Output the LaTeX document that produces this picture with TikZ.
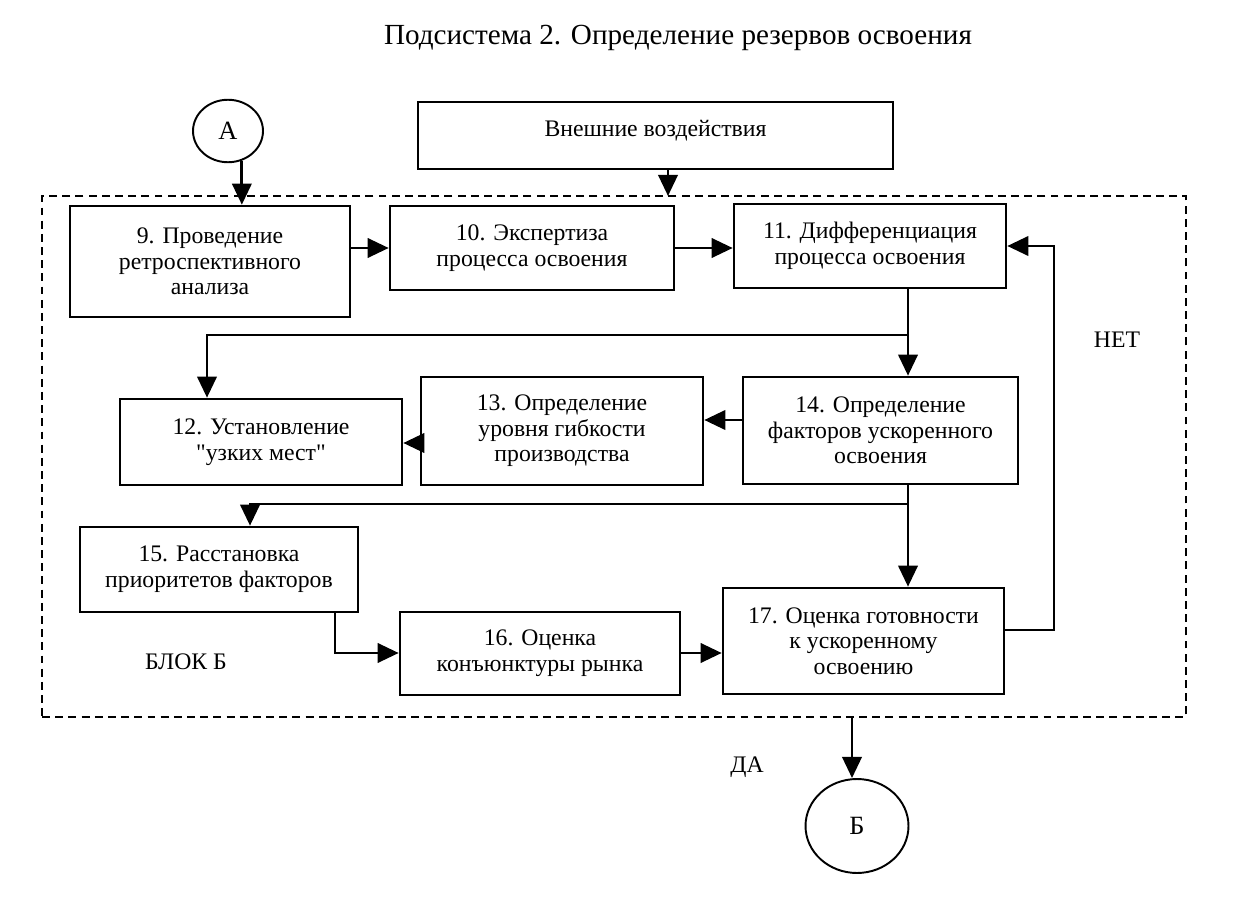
\documentclass[tikz,border=0pt]{standalone}
\usepackage{fontspec}
\setmainfont{Liberation Serif}[Ligatures=TeXOff]
\usetikzlibrary{arrows.meta,shapes.geometric}
\begin{document}
\begin{tikzpicture}[x=0.02cm,y=-0.02cm,
  box/.style={draw,line width=1.5pt,align=center,inner sep=2pt,
    font=\fontsize{13.5}{14.6}\selectfont},
  circ/.style={draw,ellipse,line width=1.1pt,inner sep=0pt,font=\fontsize{15}{17}\selectfont},
  arr/.style={line width=1.6pt,-{Triangle[length=12pt,width=11pt]}},
  lbl/.style={font=\fontsize{13.5}{15}\selectfont}]
\useasboundingbox (0,0) rectangle (1237,898);
\node[font=\fontsize{16.6}{19}\selectfont] (title) at (678,38) {Подсистема 2. Определение резервов освоения};
\node[draw,dashed,line width=1.1pt,dash pattern=on 4.5pt off 3pt,minimum width=22.88cm,minimum height=10.42cm] (blk) at (614,456.5) {};
\node[circ,minimum width=1.4cm,minimum height=1.25cm] (A) at (228,131) {А};
\node[circ,minimum width=2.06cm,minimum height=1.88cm] (B) at (857,826) {Б};
\node[box,minimum width=9.5cm,minimum height=1.34cm,text depth=0.3cm] (ext) at (655.5,135.5) {Внешние воздействия};
\node[box,minimum width=5.6cm,minimum height=2.22cm] (n9) at (210,261.5) {9. Проведение\\ретроспективного\\анализа};
\node[box,minimum width=5.68cm,minimum height=1.68cm] (n10) at (532,248) {10. Экспертиза\\процесса освоения};
\node[box,minimum width=5.44cm,minimum height=1.68cm] (n11) at (870,246) {11. Дифференциация\\процесса освоения};
\node[box,minimum width=5.64cm,minimum height=1.72cm] (n12) at (261,442) {12. Установление\\"узких мест"};
\node[box,minimum width=5.64cm,minimum height=2.16cm] (n13) at (562,431) {13. Определение\\уровня гибкости\\производства};
\node[box,minimum width=5.5cm,minimum height=2.14cm] (n14) at (880.5,430.5) {14. Определение\\факторов ускоренного\\освоения};
\node[box,minimum width=5.56cm,minimum height=1.7cm] (n15) at (219,569.5) {15. Расстановка\\приоритетов факторов};
\node[box,minimum width=5.6cm,minimum height=1.66cm] (n16) at (540,653.5) {16. Оценка\\конъюнктуры рынка};
\node[box,minimum width=5.62cm,minimum height=2.12cm] (n17) at (863.5,641) {17. Оценка готовности\\к ускоренному\\освоению};
\node[lbl] (net) at (1117,340) {НЕТ};
\node[lbl] (blok) at (186,662) {БЛОК Б};
\node[lbl] (da) at (747,767) {ДА};
\coordinate (e1) at (668,196);
\coordinate (c1) at (908,335);
\coordinate (c2) at (207,335);
\coordinate (c3) at (908,504);
\coordinate (c4) at (250,504);
\coordinate (c5) at (335,653);
\coordinate (c6) at (1054,630);
\coordinate (c7) at (1054,246);
\coordinate (c8) at (852,717);
\draw[arr] (A.-65) -- (A.-65 |- n9.north);
\draw[arr] (ext.south -| e1) -- (e1);
\draw[arr] (n9.east |- n10.west) -- (n10.west);
\draw[arr] (n10.east) -- (n10.east -| n11.west);
\draw[arr] (c1 |- n11.south) -- (c1 |- n14.north);
\draw[arr] (c1) -- (c2) -- (c2 |- n12.north);
\draw[arr] (n14.west |- 0,420) -- (n13.east |- 0,420);
\draw[arr] (n13.west |- 0,443) -- (n12.east |- 0,443);
\draw[arr] (c3 |- n14.south) -- (c3 |- n17.north);
\draw[arr] (c3) -- (c4) -- (c4 |- n15.north);
\draw[arr] (c5 |- n15.south) -- (c5) -- (c5 -| n16.west);
\draw[arr] (n16.east |- c5) -- (n17.west |- c5);
\draw[arr] (n17.east |- c6) -- (c6) -- (c7) -- (c7 -| n11.east);
\draw[arr] (c8) -- (c8 |- B.north);
\end{tikzpicture}
\end{document}
